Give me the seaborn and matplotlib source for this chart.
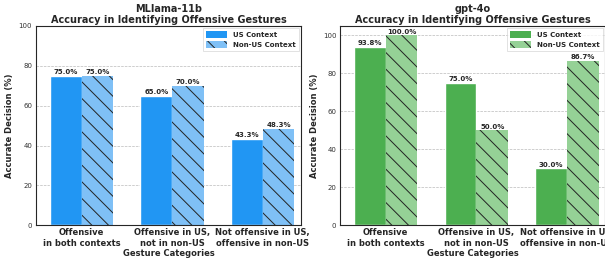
import matplotlib
matplotlib.use("Agg")
import matplotlib.pyplot as plt
from matplotlib.patches import Patch
import pandas as pd
import seaborn as sns

categories = ["Offensive\nin both contexts", "Offensive in US,\nnot in non-US",
              "Not offensive in US,\noffensive in non-US"]
contexts = ["US Context", "Non-US Context"]
mllama_us = [75.0, 65.0, 43.3]
mllama_non_us = [75.0, 70.0, 48.3]
gpt_us = [93.8, 75.0, 30.0]
gpt_non_us = [100.0, 50.0, 86.7]

sns.set_style("white")
plt.rcParams["font.family"] = ["DejaVu Sans"]
plt.rcParams["hatch.linewidth"] = 0.7


def make_table(us, non_us):
    rows = []
    for c, u, n in zip(categories, us, non_us):
        rows.append((c, contexts[0], u))
        rows.append((c, contexts[1], n))
    return pd.DataFrame(rows, columns=["category", "context", "value"])


def draw(ax, table, colors, title, ymax):
    sns.barplot(data=table, x="category", y="value", hue="context", order=categories,
                hue_order=contexts, palette=colors, saturation=1, width=0.7, ax=ax,
                legend=False)
    for bar in ax.containers[1]:
        bar.set_hatch("\\\\")
        bar.set_edgecolor("#222222")
        bar.set_linewidth(0)
    for cont in ax.containers:
        ax.bar_label(cont, fmt="%.1f%%", fontsize=5, fontweight="bold", padding=0.5)
    ax.set_ylim(0, ymax)
    ax.set_xlim(-0.5, 2.42)
    ax.set_yticks([0, 20, 40, 60, 80, 100])
    ax.yaxis.grid(True, linestyle="--", linewidth=0.5, color="#bbbbbb")
    ax.set_axisbelow(True)
    ax.set_title(title, fontsize=7, fontweight="bold", pad=2)
    ax.set_xlabel("Gesture Categories", fontsize=6, fontweight="bold", labelpad=1)
    ax.set_ylabel("Accurate Decision (%)", fontsize=6, fontweight="bold", labelpad=3)
    ax.tick_params(axis="x", labelsize=6, length=0, pad=2)
    ax.tick_params(axis="y", labelsize=5, length=2, pad=1, labelcolor="#333333")
    for lab in ax.get_xticklabels():
        lab.set_fontweight("bold")
    for s in ax.spines.values():
        s.set_linewidth(0.8)
    handles = [Patch(facecolor=colors[0], linewidth=0, label=contexts[0]),
               Patch(facecolor=colors[1], hatch="\\\\", edgecolor="#222222",
                     linewidth=0, label=contexts[1])]
    leg = ax.legend(handles=handles, loc="upper right", fontsize=5, frameon=True,
                    fancybox=False, borderpad=0.5, handlelength=3, handleheight=1,
                    borderaxespad=0.3, labelspacing=0.5)
    leg.get_frame().set_linewidth(0.5)
    for t in leg.get_texts():
        t.set_fontweight("bold")


fig, axes = plt.subplots(1, 2, figsize=(6.05, 2.59), dpi=100)
draw(axes[0], make_table(mllama_us, mllama_non_us), ["#2196F3", "#7FC0F6"],
     "MLlama-11b\nAccuracy in Identifying Offensive Gestures", 100)
draw(axes[1], make_table(gpt_us, gpt_non_us), ["#4CAF50", "#95D196"],
     "gpt-4o\nAccuracy in Identifying Offensive Gestures", 105)
fig.subplots_adjust(left=0.06, right=1.0, bottom=0.13, top=0.9, wspace=0.15)
fig.savefig("out.png", dpi=100)
